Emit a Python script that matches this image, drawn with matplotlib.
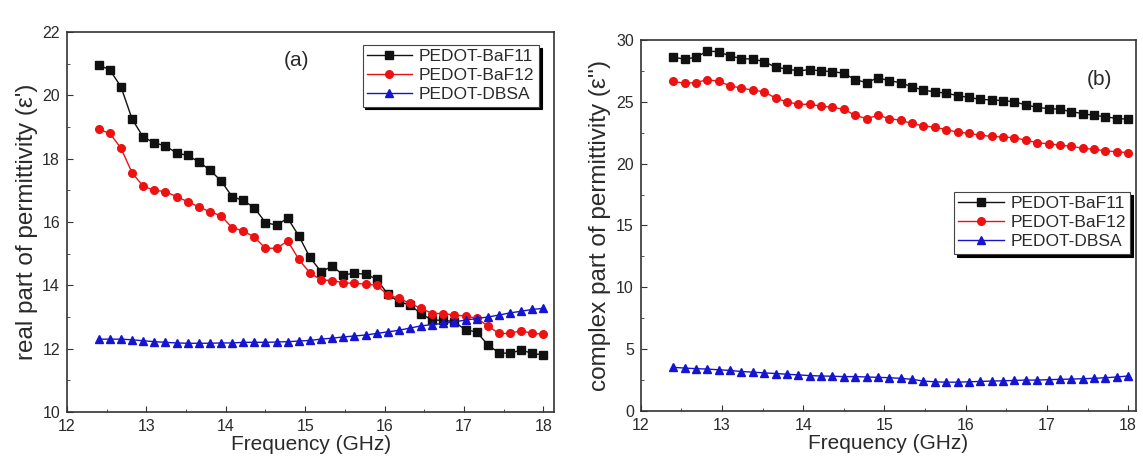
import matplotlib
matplotlib.use("Agg")
import matplotlib.pyplot as plt
from matplotlib.ticker import MultipleLocator

plt.rcParams['font.family'] = ['Liberation Sans', 'DejaVu Sans']

freq = [12.40, 12.54, 12.68, 12.82, 12.96, 13.10, 13.24, 13.38, 13.52, 13.66,
        13.80, 13.94, 14.08, 14.22, 14.36, 14.50, 14.64, 14.78, 14.92, 15.06,
        15.20, 15.34, 15.48, 15.62, 15.76, 15.90, 16.04, 16.18, 16.32, 16.46,
        16.60, 16.74, 16.88, 17.02, 17.16, 17.30, 17.44, 17.58, 17.72, 17.86, 18.00]

real_baf11 = [20.96, 20.8, 20.27, 19.25, 18.68, 18.5, 18.4, 18.18, 18.1, 17.9,
              17.64, 17.3, 16.8, 16.68, 16.45, 15.98, 15.9, 16.12, 15.56, 14.88,
              14.43, 14.6, 14.33, 14.38, 14.35, 14.2, 13.72, 13.48, 13.38, 13.1,
              12.9, 12.9, 12.85, 12.59, 12.53, 12.12, 11.87, 11.85, 11.96, 11.85, 11.8]
real_baf12 = [18.92, 18.8, 18.33, 17.55, 17.13, 17.0, 16.96, 16.8, 16.64, 16.48,
              16.32, 16.2, 15.82, 15.72, 15.52, 15.17, 15.17, 15.4, 14.82, 14.39,
              14.17, 14.15, 14.08, 14.06, 14.04, 14.0, 13.7, 13.59, 13.43, 13.27,
              13.11, 13.11, 13.06, 13.03, 12.96, 12.72, 12.48, 12.48, 12.57, 12.48, 12.46]
real_dbsa = [12.3, 12.3, 12.3, 12.28, 12.25, 12.22, 12.2, 12.18, 12.17, 12.17,
             12.17, 12.18, 12.18, 12.2, 12.2, 12.2, 12.21, 12.22, 12.24, 12.26,
             12.3, 12.33, 12.37, 12.4, 12.43, 12.48, 12.53, 12.58, 12.65, 12.72,
             12.76, 12.8, 12.85, 12.9, 12.95, 13.0, 13.06, 13.13, 13.18, 13.24, 13.27]

imag_baf11 = [28.6, 28.45, 28.6, 29.1, 29.05, 28.7, 28.5, 28.45, 28.25, 27.8,
              27.65, 27.5, 27.6, 27.5, 27.45, 27.3, 26.8, 26.55, 26.95, 26.7,
              26.55, 26.2, 25.95, 25.8, 25.7, 25.5, 25.35, 25.2, 25.15, 25.1,
              25.0, 24.75, 24.55, 24.45, 24.4, 24.2, 24.05, 23.9, 23.8, 23.65, 23.6]
imag_baf12 = [26.65, 26.5, 26.55, 26.8, 26.65, 26.3, 26.1, 25.95, 25.8, 25.3,
              25.0, 24.8, 24.8, 24.65, 24.55, 24.4, 23.9, 23.65, 23.9, 23.65,
              23.5, 23.25, 23.05, 22.95, 22.75, 22.55, 22.45, 22.3, 22.2, 22.15,
              22.1, 21.9, 21.7, 21.6, 21.5, 21.4, 21.25, 21.15, 21.05, 20.95, 20.9]
imag_dbsa = [3.53, 3.47, 3.42, 3.39, 3.33, 3.28, 3.19, 3.14, 3.08, 3.03,
             2.97, 2.92, 2.86, 2.83, 2.81, 2.78, 2.78, 2.75, 2.72, 2.69,
             2.64, 2.56, 2.42, 2.36, 2.33, 2.33, 2.36, 2.39, 2.42, 2.44,
             2.47, 2.5, 2.5, 2.53, 2.56, 2.58, 2.61, 2.64, 2.69, 2.75, 2.83]

labels = ['PEDOT-BaF11', 'PEDOT-BaF12', 'PEDOT-DBSA']
colors = ['#111111', '#ee1111', '#1515d0']
markers = ['s', 'o', '^']

txt = '#2a2a2a'

fig = plt.figure(figsize=(11.43, 4.59), dpi=100)
axa = fig.add_axes([0.0586, 0.1024, 0.4265, 0.828])
axb = fig.add_axes([0.5606, 0.1046, 0.4335, 0.8083])


def style(ax):
    for s in ax.spines.values():
        s.set_color('#333333')
        s.set_linewidth(1.2)
    ax.tick_params(which='both', direction='in', top=False, right=False,
                   colors='#333333', labelcolor=txt, labelsize=11.5)
    ax.tick_params(which='major', length=4)
    ax.tick_params(which='minor', length=2.5)
    ax.tick_params(axis='x', which='major', pad=5)
    ax.tick_params(axis='y', which='major', pad=5)
    ax.xaxis.set_major_locator(MultipleLocator(1))
    ax.xaxis.set_minor_locator(MultipleLocator(0.5))


def style_legend(leg):
    leg.get_frame().set_edgecolor('#444444')
    leg.get_frame().set_linewidth(0.8)
    for t in leg.get_texts():
        t.set_color(txt)


legend_kw = dict(fontsize=12.5, frameon=True, fancybox=False,
                 shadow={'color': 'k', 'alpha': 1}, handlelength=2.6,
                 borderpad=0.25, labelspacing=0.22, handletextpad=0.4,
                 borderaxespad=0.2)

for ys, lab, c, m in zip([real_baf11, real_baf12, real_dbsa], labels, colors, markers):
    axa.plot(freq, ys, color=c, marker=m, markersize=5.5, linewidth=1.0, label=lab)
axa.set_xlim(12, 18.14)
axa.set_ylim(10, 22)
axa.yaxis.set_major_locator(MultipleLocator(2))
axa.yaxis.set_minor_locator(MultipleLocator(1))
style(axa)
axa.set_xlabel('Frequency (GHz)', fontsize=15, color=txt, labelpad=1)
axa.set_ylabel("real part of permittivity (ε')", fontsize=17.5, color=txt, labelpad=3)
axa.text(14.89, 21.1, '(a)', fontsize=15, color=txt, ha='center', va='center')
leg = axa.legend(loc='upper right', bbox_to_anchor=(0.975, 0.975), **legend_kw)
style_legend(leg)

for ys, lab, c, m in zip([imag_baf11, imag_baf12, imag_dbsa], labels, colors, markers):
    axb.plot(freq, ys, color=c, marker=m, markersize=5.5, linewidth=1.0, label=lab)
axb.set_xlim(12, 18.1)
axb.set_ylim(0, 30)
axb.yaxis.set_major_locator(MultipleLocator(5))
axb.yaxis.set_minor_locator(MultipleLocator(2.5))
style(axb)
axb.set_xlabel('Frequency (GHz)', fontsize=15, color=txt, labelpad=1)
axb.set_ylabel("complex part of permittivity (ε'')", fontsize=17.5, color=txt, labelpad=4)
axb.text(17.65, 26.8, '(b)', fontsize=15, color=txt, ha='center', va='center')
leg2 = axb.legend(loc='center right', bbox_to_anchor=(0.995, 0.507), **legend_kw)
style_legend(leg2)

fig.savefig('out.png', dpi=100)
